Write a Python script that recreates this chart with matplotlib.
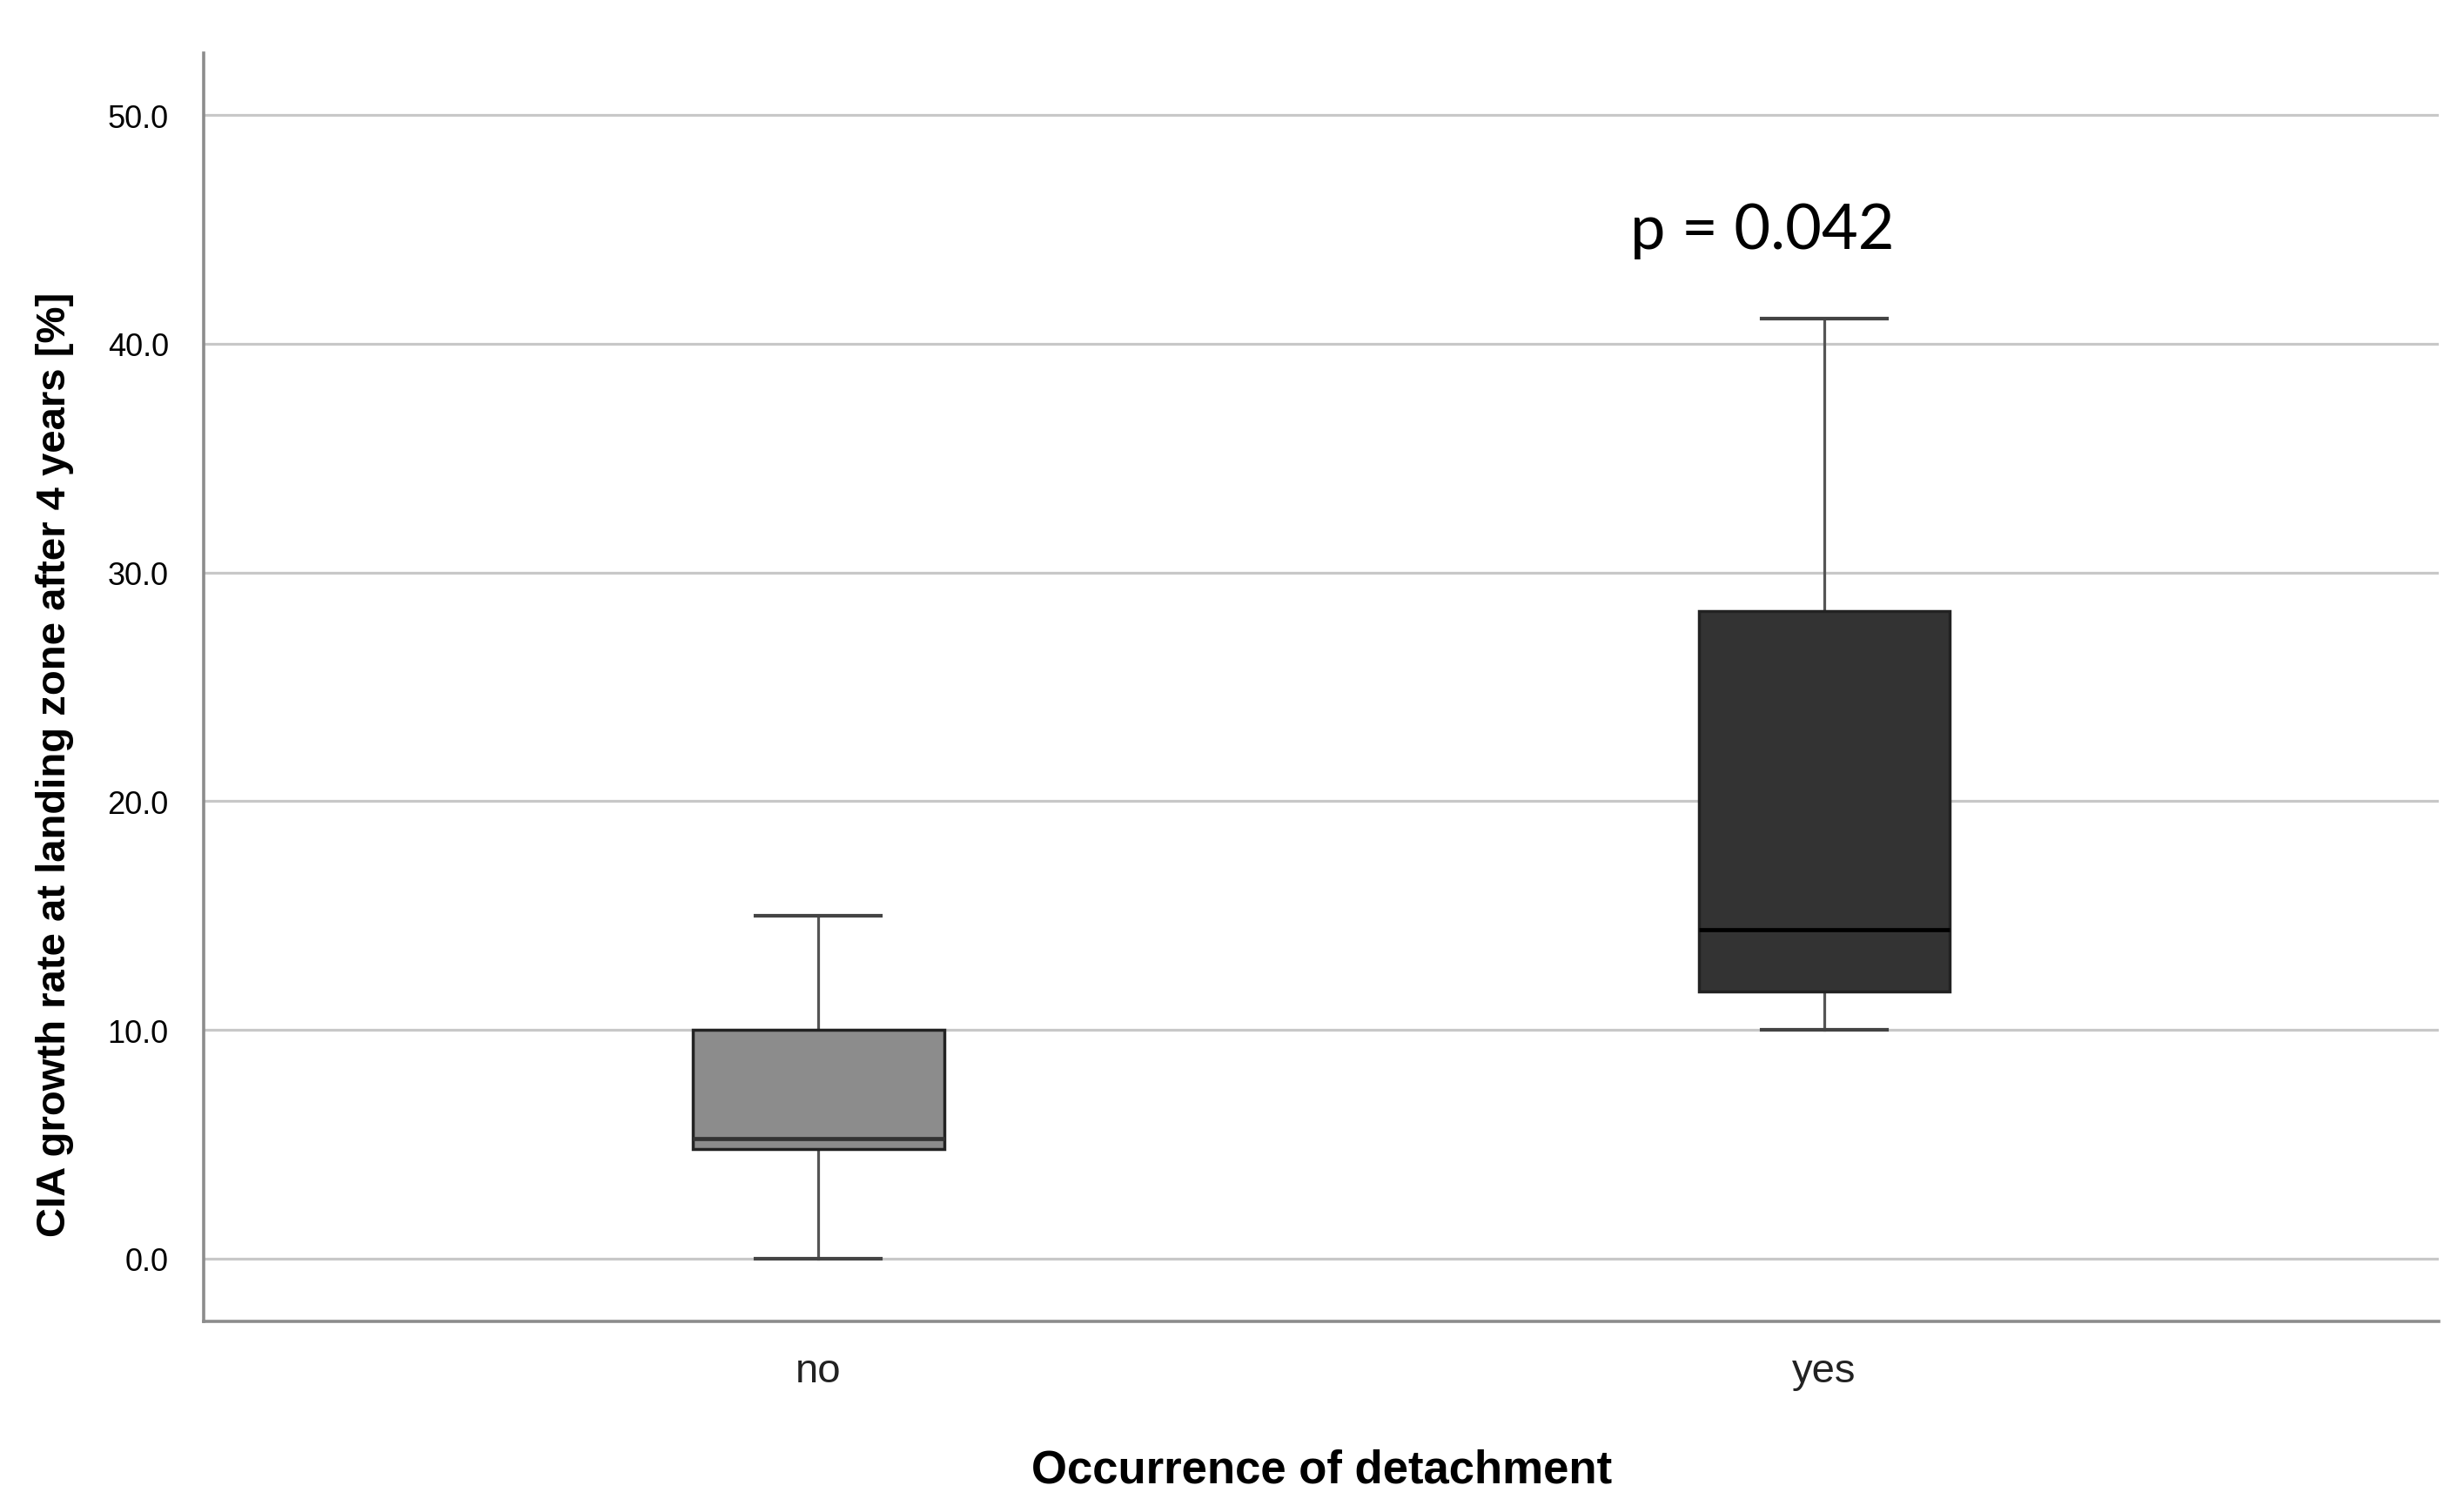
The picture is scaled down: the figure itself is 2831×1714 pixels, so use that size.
import matplotlib.pyplot as plt
from matplotlib import font_manager

# Data
groups = ['no', 'yes']
whisker_low = [0.0, 10.0]
q1 = [4.8, 11.7]
median = [5.25, 14.4]
q3 = [10.0, 28.3]
whisker_high = [15.0, 41.1]
p_text = 'p = 0.042'
y_ticks = [0, 10, 20, 30, 40, 50]

# pick a narrow font if there is one
names = {f.name for f in font_manager.fontManager.ttflist}
if 'Liberation Sans Narrow' in names:
    narrow = 'Liberation Sans Narrow'
    ylab_size, xlab_size, tick_size = 36, 41, 38
else:
    narrow = 'Liberation Sans'
    ylab_size, xlab_size, tick_size = 34, 38, 34

fig = plt.figure(figsize=(28.31, 17.15), dpi=100)
ax = fig.add_axes([0.0827, 0.1143, 0.9071, 0.8495])

stats = []
for i in range(len(groups)):
    stats.append({'whislo': whisker_low[i], 'q1': q1[i], 'med': median[i],
                  'q3': q3[i], 'whishi': whisker_high[i], 'fliers': [],
                  'label': groups[i]})

bp = ax.bxp(stats, positions=[0, 1], widths=0.25, patch_artist=True,
            showfliers=False, capwidths=0.125)

fills = ['#8c8c8c', '#333333']
meds = ['#333333', '#000000']
for i, box in enumerate(bp['boxes']):
    box.set_facecolor(fills[i])
    box.set_edgecolor('#222222')
    box.set_linewidth(2.5)
    box.set_zorder(3)
for i, m in enumerate(bp['medians']):
    m.set_color(meds[i])
    m.set_linewidth(3.4)
    m.set_zorder(4)
for w in bp['whiskers']:
    w.set_color('#555555')
    w.set_linewidth(2.3)
    w.set_zorder(2)
for c in bp['caps']:
    c.set_color('#444444')
    c.set_linewidth(3.0)
    c.set_zorder(2)

ax.set_xlim(-0.611, 1.611)
ax.set_ylim(-2.74, 52.7)
ax.set_yticks(y_ticks)
ax.set_yticklabels([f'{v:.1f}' for v in y_ticks], fontfamily='Liberation Sans', fontsize=26)
ax.set_xticks([0, 1])
ax.set_xticklabels(groups, fontfamily=narrow, fontsize=tick_size, color='#222222')
ax.tick_params(axis='y', length=0, pad=29)
ax.tick_params(axis='x', length=0, pad=25)

ax.yaxis.grid(True, color='#c8c8c8', linewidth=2.3, zorder=0)
ax.set_axisbelow(True)

for s in ['top', 'right']:
    ax.spines[s].set_visible(False)
for s in ['left', 'bottom']:
    ax.spines[s].set_color('#8c8c8c')
    ax.spines[s].set_linewidth(2.6)

ax.set_xlabel('Occurrence of detachment', fontfamily=narrow, fontweight='bold',
              fontsize=xlab_size)
ax.xaxis.set_label_coords(0.5, -0.10)
ax.set_ylabel('CIA growth rate at landing zone after 4 years [%]', fontfamily=narrow,
              fontweight='bold', fontsize=ylab_size)
ax.yaxis.set_label_coords(-0.058, 0.44)

ax.text(0.938, 44.95, p_text, fontfamily=['Lato', 'DejaVu Sans'], fontsize=52,
        ha='center', va='center')

fig.savefig('out.png', dpi=100)
